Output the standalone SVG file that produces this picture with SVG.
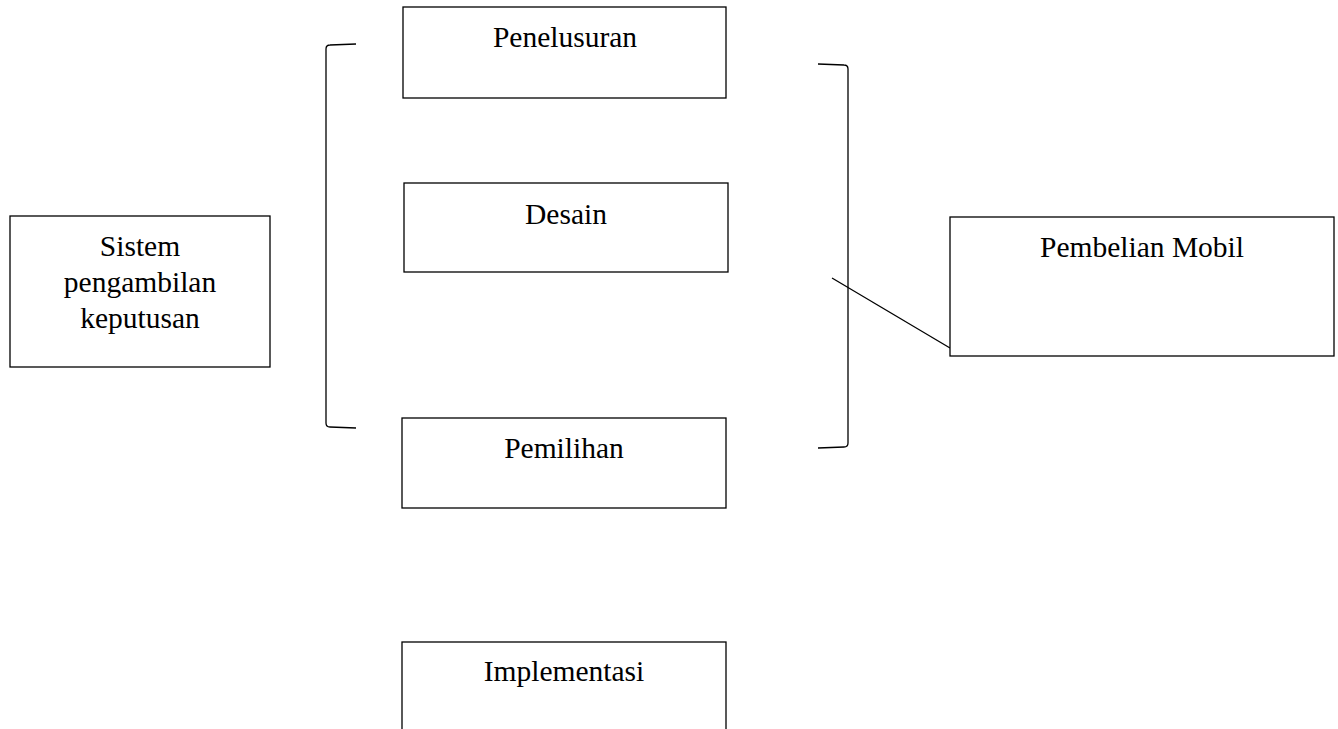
<svg xmlns="http://www.w3.org/2000/svg" width="1338" height="729" viewBox="0 0 1338 729">
  <style>
    .box { fill: #ffffff; stroke: #000000; stroke-width: 1.3; }
    .lbl { font-family: "Liberation Serif", "Times New Roman", serif; font-size: 29.5px; fill: #000000; text-anchor: middle; }
    .ln { fill: none; stroke: #000000; stroke-width: 1.3; }
  </style>
  <rect width="1338" height="729" fill="#ffffff"/>

  <!-- brackets and connector -->
  <g id="connectors">
    <path class="ln" d="M356,44 L330,45 Q326,45 326,49 L326,423 Q326,427 330,427 L356,428"/>
    <path class="ln" d="M818,64 L844,65 Q848,65 848,69 L848,443 Q848,447 844,447 L818,448"/>
    <line class="ln" x1="832" y1="278" x2="950" y2="348"/>
  </g>

  <g id="sistem">
    <rect class="box" x="10" y="216" width="260" height="151"/>
    <text class="lbl" x="140" y="256">Sistem</text>
    <text class="lbl" x="140" y="292">pengambilan</text>
    <text class="lbl" x="140" y="328">keputusan</text>
  </g>

  <g id="penelusuran">
    <rect class="box" x="403" y="7" width="323" height="91"/>
    <text class="lbl" x="565" y="47">Penelusuran</text>
  </g>

  <g id="desain">
    <rect class="box" x="404" y="183" width="324" height="89"/>
    <text class="lbl" x="566" y="224">Desain</text>
  </g>

  <g id="pemilihan">
    <rect class="box" x="402" y="418" width="324" height="90"/>
    <text class="lbl" x="564" y="458">Pemilihan</text>
  </g>

  <g id="implementasi">
    <rect class="box" x="402" y="642" width="324" height="100"/>
    <text class="lbl" x="564" y="681">Implementasi</text>
  </g>

  <g id="pembelian">
    <rect class="box" x="950" y="217" width="384" height="139"/>
    <text class="lbl" x="1142" y="257">Pembelian Mobil</text>
  </g>
</svg>
